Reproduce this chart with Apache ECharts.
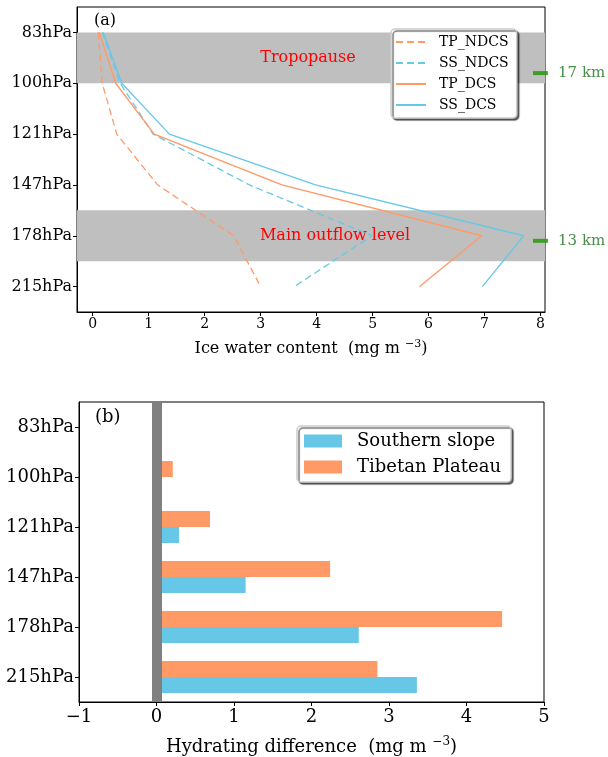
<!DOCTYPE html>
<html>
<head>
<meta charset="utf-8">
<script src="https://cdn.jsdelivr.net/npm/echarts@6/dist/echarts.min.js"></script>
<style>
  html, body { margin: 0; padding: 0; background: #fff; }
  #chart { width: 608px; height: 757px; }
</style>
</head>
<body>
<div id="chart"></div>
<script>
// pressure levels, top to bottom
const levels = ['83hPa', '100hPa', '121hPa', '147hPa', '178hPa', '215hPa']

// (a) ice water content (mg m-3)
const tpNdcs = [0.10, 0.17, 0.43, 1.16, 2.52, 3.00]
const ssNdcs = [0.17, 0.49, 1.08, 2.80, 4.99, 3.60]
const tpDcs = [0.12, 0.41, 1.10, 3.38, 6.95, 5.84]
const ssDcs = [0.19, 0.52, 1.37, 3.98, 7.70, 6.96]
const iwcTicks = [0, 1, 2, 3, 4, 5, 6, 7, 8]

// shaded layers (level index)
const tropopauseBand = [0, 1]
const outflowBand = [3.5, 4.5]

// altitude markers
const kmLabels = ['17 km', '13 km']
const kmLevel = [0.8, 4.1]
const kmX = 8.0

// (b) hydrating difference (mg m-3)
const southernSlope = [null, null, 0.29, 1.15, 2.61, 3.36]
const tibetanPlateau = [null, 0.21, 0.69, 2.24, 4.46, 2.85]

const ORANGE = '#ff9966'
const BLUE = '#66c8e6'
const FONT = 'DejaVu Serif'

const chart = echarts.init(document.getElementById('chart'))

const toPairs = arr => arr.map((v, i) => [v, i])

const lineSeries = (name, data, color, dashed) => ({
  name,
  type: 'line',
  xAxisIndex: 0,
  yAxisIndex: 0,
  data: toPairs(data),
  symbol: 'none',
  z: 3,
  lineStyle: { color, width: 1.3, type: dashed ? [7, 4] : 'solid' },
  itemStyle: { color }
})

const legendBox = {
  orient: 'vertical',
  backgroundColor: '#fff',
  borderColor: '#cccccc',
  borderWidth: 1.5,
  borderRadius: 4,
  shadowColor: 'rgba(0,0,0,0.55)',
  shadowOffsetX: 2,
  shadowOffsetY: 2,
  shadowBlur: 1
}

const option = {
  animation: false,
  textStyle: { fontFamily: FONT, color: '#000' },
  title: [
    { text: '(a)', left: 89, top: 8, textStyle: { fontFamily: FONT, fontSize: 16, fontWeight: 'normal', color: '#000' } },
    { text: '(b)', left: 90, top: 403, textStyle: { fontFamily: FONT, fontSize: 18, fontWeight: 'normal', color: '#000' } }
  ],
  grid: [
    { left: 77, top: 7, width: 468, height: 305, show: true, borderColor: '#000', borderWidth: 1, backgroundColor: 'transparent' },
    { left: 79, top: 402, width: 465, height: 301, show: true, borderColor: '#000', borderWidth: 1, backgroundColor: 'transparent' }
  ],
  legend: [
    Object.assign({}, legendBox, {
      data: ['TP_NDCS', 'SS_NDCS', 'TP_DCS', 'SS_DCS'],
      left: 391,
      top: 29,
      padding: [6, 8, 6, 4],
      itemWidth: 30,
      itemHeight: 14,
      itemGap: 7,
      itemStyle: { opacity: 0 },
      textStyle: { fontFamily: FONT, fontSize: 14, color: '#000', padding: [0, 0, 0, 8] }
    }),
    Object.assign({}, legendBox, {
      data: ['Southern slope', 'Tibetan Plateau'],
      left: 297,
      top: 426,
      padding: [6, 10, 6, 7],
      icon: 'rect',
      itemWidth: 38,
      itemHeight: 13,
      itemGap: 8,
      textStyle: { fontFamily: FONT, fontSize: 18, color: '#000', padding: [0, 0, 0, 10] }
    })
  ],
  xAxis: [
    {
      gridIndex: 0,
      type: 'value',
      min: -0.28,
      max: 8.08,
      name: '{t|Ice water content  (mg m }{sup|−3}{t|)}',
      nameLocation: 'middle',
      nameGap: 27,
      nameTextStyle: {
        fontFamily: FONT, fontSize: 16, color: '#000',
        rich: { t: { fontSize: 16 }, sup: { fontSize: 11, padding: [0, 0, 9, 0] } }
      },
      axisLine: { show: true, onZero: false, lineStyle: { color: '#000', width: 1 } },
      axisTick: { show: true, customValues: iwcTicks, length: 4, lineStyle: { color: '#000' } },
      axisLabel: { customValues: iwcTicks, fontFamily: FONT, fontSize: 14, color: '#000', margin: 5 },
      splitLine: { show: false }
    },
    {
      gridIndex: 1,
      type: 'value',
      min: -1,
      max: 5,
      interval: 1,
      name: '{t|Hydrating difference  (mg m }{sup|−3}{t|)}',
      nameLocation: 'middle',
      nameGap: 34,
      nameTextStyle: {
        fontFamily: FONT, fontSize: 18, color: '#000',
        rich: { t: { fontSize: 18 }, sup: { fontSize: 12, padding: [0, 0, 10, 0] } }
      },
      axisLine: { show: true, onZero: false, lineStyle: { color: '#000', width: 1 } },
      axisTick: { show: true, length: 4, lineStyle: { color: '#000' } },
      axisLabel: {
        fontFamily: FONT, fontSize: 18, color: '#000', margin: 6,
        formatter: v => String(v).replace('-', '−')
      },
      splitLine: { show: false }
    }
  ],
  yAxis: [
    {
      gridIndex: 0,
      type: 'value',
      inverse: true,
      min: -0.5,
      max: 5.5,
      axisLine: { show: true, onZero: false, lineStyle: { color: '#000', width: 1 } },
      axisTick: { show: true, customValues: [0, 1, 2, 3, 4, 5], length: 4, lineStyle: { color: '#000' } },
      axisLabel: {
        customValues: [0, 1, 2, 3, 4, 5],
        formatter: v => levels[Math.round(v)],
        fontFamily: FONT, fontSize: 16, color: '#000', margin: 5
      },
      splitLine: { show: false }
    },
    {
      gridIndex: 1,
      type: 'category',
      inverse: true,
      data: levels,
      boundaryGap: true,
      axisLine: { show: true, onZero: false, lineStyle: { color: '#000', width: 1 } },
      axisTick: { show: true, alignWithLabel: true, length: 4, lineStyle: { color: '#000' } },
      axisLabel: { fontFamily: FONT, fontSize: 18, color: '#000', margin: 5 },
      splitLine: { show: false }
    }
  ],
  series: [
    {
      name: 'bands',
      type: 'line',
      xAxisIndex: 0,
      yAxisIndex: 0,
      data: [],
      z: 1,
      markArea: {
        silent: true,
        itemStyle: { color: '#bfbfbf' },
        label: { show: true, position: 'inside', color: '#ff0000', fontFamily: FONT, fontSize: 16 },
        data: [
          [{ yAxis: tropopauseBand[0], name: 'Tropopause', label: { offset: [-3, 0] } }, { yAxis: tropopauseBand[1] }],
          [{ yAxis: outflowBand[0], name: 'Main outflow level', label: { offset: [24, 0] } }, { yAxis: outflowBand[1] }]
        ]
      }
    },
    lineSeries('TP_NDCS', tpNdcs, ORANGE, true),
    lineSeries('SS_NDCS', ssNdcs, BLUE, true),
    lineSeries('TP_DCS', tpDcs, ORANGE, false),
    lineSeries('SS_DCS', ssDcs, BLUE, false),
    {
      name: 'km',
      type: 'scatter',
      xAxisIndex: 0,
      yAxisIndex: 0,
      clip: false,
      symbol: 'rect',
      symbolSize: [15, 4],
      itemStyle: { color: '#1f9600' },
      z: 4,
      data: kmLevel.map((y, i) => ({ value: [kmX, y], name: kmLabels[i] })),
      label: {
        show: true,
        position: 'right',
        distance: 10,
        formatter: p => p.name,
        color: '#1a701a',
        fontFamily: FONT,
        fontSize: 15
      }
    },
    {
      name: 'Tibetan Plateau',
      type: 'bar',
      xAxisIndex: 1,
      yAxisIndex: 1,
      data: tibetanPlateau,
      barWidth: 16,
      barGap: '0%',
      itemStyle: { color: ORANGE }
    },
    {
      name: 'Southern slope',
      type: 'bar',
      xAxisIndex: 1,
      yAxisIndex: 1,
      data: southernSlope,
      barWidth: 16,
      barGap: '0%',
      itemStyle: { color: BLUE }
    },
    {
      name: 'zero',
      type: 'line',
      xAxisIndex: 1,
      yAxisIndex: 1,
      data: [],
      z: 5,
      markLine: {
        silent: true,
        symbol: 'none',
        label: { show: false },
        lineStyle: { color: '#808080', width: 10, type: 'solid' },
        data: [{ xAxis: 0 }]
      }
    }
  ]
}

chart.setOption(option)

window.addEventListener('resize', () => {
  chart.resize()
})
</script>
</body>
</html>
